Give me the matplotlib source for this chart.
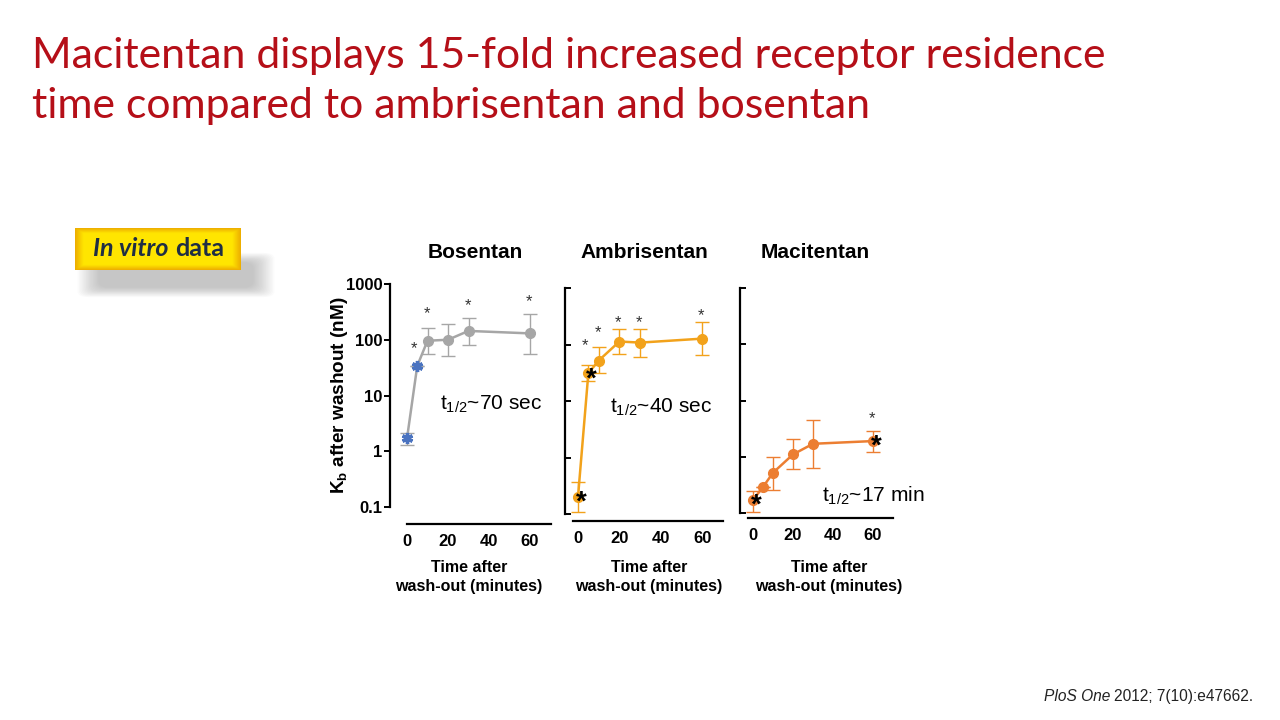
import numpy as np
import matplotlib
matplotlib.use("Agg")
import matplotlib.pyplot as plt
from matplotlib.patches import FancyBboxPatch
import matplotlib.transforms as mtransforms

plt.rcParams['font.family'] = ['Liberation Sans', 'DejaVu Sans']
plt.rcParams['mathtext.fontset'] = 'custom'
plt.rcParams['mathtext.rm'] = 'Liberation Sans'
plt.rcParams['mathtext.it'] = 'Liberation Sans:italic'
plt.rcParams['mathtext.bf'] = 'Liberation Sans:bold'

# ---------------- data ----------------
time_min = [0, 5, 10, 20, 30, 60]

bos_y = [1.7, 34, 96, 100, 144, 130]
bos_lo = [1.28, 34, 56, 52, 81, 56]
bos_hi = [2.1, 34, 160, 190, 245, 295]
bos_star_x = [3.4, 9.8, 29.8, 59.5]
bos_star_y = [78, 330, 460, 540]

amb_y = [0.2, 31, 52, 113, 108, 127]
amb_lo = [0.11, 23, 31, 69, 61, 64]
amb_hi = [0.37, 44, 92, 185, 185, 255]
amb_star_x = [3.4, 9.5, 19.5, 29.5, 59.5]
amb_star_y = [109, 184, 277, 277, 370]
amb_sig_x = [0, 5]

mac_y = [0.17, 0.29, 0.52, 1.1, 1.7, 1.9]
mac_lo = [0.106, 0.29, 0.26, 0.61, 0.64, 1.23]
mac_hi = [0.25, 0.29, 1.0, 2.1, 4.5, 2.9]
mac_star_x = [59.5]
mac_star_y = [5.3]
mac_sig_x = [0, 60]

y_ticks = [0.1, 1, 10, 100, 1000]
y_ticklabels = ['0.1', '1', '10', '100', '1000']
x_ticks = [0, 20, 40, 60]
x_ticklabels = ['0', '20', '40', '60']

panel_titles = ['Bosentan', 'Ambrisentan', 'Macitentan']
half_lives = [r'$\mathregular{t_{1/2}}$~70 sec', r'$\mathregular{t_{1/2}}$~40 sec',
              r'$\mathregular{t_{1/2}}$~17 min']
title_lines = ['Macitentan displays 15-fold increased receptor residence',
               'time compared to ambrisentan and bosentan']

# ---------------- figure ----------------
W, H = 1280, 720
fig = plt.figure(figsize=(12.8, 7.2), dpi=100)
fig.patch.set_facecolor('white')
renderer = fig.canvas.get_renderer()

def px_axes(left, right, top, bottom):
    return fig.add_axes([left / W, 1 - bottom / H, (right - left) / W, (bottom - top) / H])

def text_width_px(t):
    return t.get_window_extent(renderer=renderer).width

PT = 72 / 100.0  # pixels -> points

# Title
for i, line in enumerate(title_lines):
    fig.text(32 / W, 1 - (68 + 50 * i) / H, line, color='#B50F18', fontsize=30.8,
             family='Lato', ha='left', va='baseline')

# "In vitro data" badge with soft shadow
for i in range(16):
    grow = (16 - i) * 1.4
    fig.patches.append(FancyBboxPatch(((100 - grow) / W, 1 - (287 + grow * 0.45) / H),
                                      (152 + 2 * grow) / W, (24 + 0.9 * grow) / H,
                                      boxstyle='round,pad=0,rounding_size=0.008',
                                      transform=fig.transFigure, facecolor='#707070',
                                      edgecolor='none', alpha=0.026, zorder=1))
bax = px_axes(75, 241, 228, 270)
bax.set_axis_off()
gy = np.linspace(0, 1, 80)
gx = np.linspace(0, 1, 220)
c_mid = np.array([1.0, 0.90, 0.0])
c_edge = np.array([0.93, 0.68, 0.0])
fy = np.clip(np.minimum(gy, 1 - gy) / 0.12, 0, 1)
fx = np.clip(np.minimum(gx, 1 - gx) / 0.05, 0, 1)
f = np.minimum(fy[:, None], fx[None, :])
img = c_edge[None, None, :] + (c_mid - c_edge)[None, None, :] * f[:, :, None]
bax.imshow(img, aspect='auto', extent=[0, 1, 0, 1], zorder=2, interpolation='bilinear')
bax.set_xlim(0, 1)
bax.set_ylim(0, 1)
bax.set_zorder(5)
t1 = fig.text(0, 1 - 256 / H, 'In vitro', fontsize=18, family='Lato', weight='bold',
              style='italic', color='#1F2E44', ha='left', va='baseline', zorder=10)
t2 = fig.text(0, 1 - 256 / H, 'data', fontsize=18, family='Lato', weight='bold',
              color='#1F2E44', ha='left', va='baseline', zorder=10)
w1, w2 = text_width_px(t1), text_width_px(t2)
gap = 6
x_start = 158.5 - (w1 + gap + w2) / 2
t1.set_x(x_start / W)
t2.set_x((x_start + w1 + gap) / W)

# Citation
c2 = fig.text(1253 / W, 1 - 701 / H, '2012; 7(10):e47662.', fontsize=11.2,
              ha='right', va='baseline', color='#222222')
wc2 = text_width_px(c2)
fig.text((1253 - wc2 - 3.5) / W, 1 - 701 / H, 'PloS One', fontsize=11.2, style='italic',
         ha='right', va='baseline', color='#222222')

# Y-axis label
fig.text(339 / W, 1 - 395 / H, r'K$_\mathregular{b}$ after washout (nM)', fontsize=13.7,
         weight='bold', rotation=90, ha='center', va='center')

# ---------------- panels ----------------
geo = [
    (407, 2.05, 284, 507, 390, 524, 0.0),
    (578, 2.07, 288, 514, 565, 521, -2.5),
    (753, 2.00, 288, 513, 740, 518, -2.5),
]
series = [
    (bos_y, bos_lo, bos_hi, '#A6A6A6', bos_star_x, bos_star_y),
    (amb_y, amb_lo, amb_hi, '#F2A21B', amb_star_x, amb_star_y),
    (mac_y, mac_lo, mac_hi, '#EC7E32', mac_star_x, mac_star_y),
]
title_px = [(475, 253), (644, 252), (815, 253)]
xlabel_px = [469, 649, 829]
t_half_pos = [(16, 6.9), (15.5, 7.8), (34.5, 0.2)]
sig_list = [[], amb_sig_x, mac_sig_x]

for k in range(3):
    x0, ppm, top, bot, yspine, xspine, xstart = geo[k]
    xmin, xmax = -3, 70
    left = x0 + xmin * ppm
    right = x0 + xmax * ppm
    ax = px_axes(left, right, top, bot)
    ax.set_yscale('log')
    ax.set_xlim(xmin, xmax)
    ax.set_ylim(0.1, 1000)
    ax.patch.set_alpha(0)
    for s in ['top', 'right']:
        ax.spines[s].set_visible(False)
    ax.spines['left'].set_position(('outward', (left - yspine) * PT))
    ax.spines['bottom'].set_position(('outward', (xspine - bot) * PT))
    ax.spines['bottom'].set_bounds(xstart, xmax)
    ax.spines['left'].set_linewidth(1.6)
    ax.spines['bottom'].set_linewidth(1.6)
    ax.yaxis.set_minor_locator(matplotlib.ticker.NullLocator())
    ax.set_yticks(y_ticks)
    if k == 0:
        ax.set_yticklabels(y_ticklabels, fontsize=12, weight='bold')
        ax.tick_params(axis='y', direction='out', length=4, width=1.4, pad=1.5)
    else:
        ax.set_yticklabels([])
        ax.tick_params(axis='y', direction='in', length=4, width=1.4)
    ax.set_xticks(x_ticks)
    ax.set_xticklabels(x_ticklabels, fontsize=12, weight='bold')
    ax.tick_params(axis='x', length=0, pad=7)

    yv, lo, hi, col, sx, sy = series[k]
    yv = np.array(yv); lo = np.array(lo); hi = np.array(hi)
    yerr = np.vstack([yv - lo, hi - yv])
    ax.errorbar(time_min, yv, yerr=yerr, fmt='none', ecolor=col, elinewidth=1.0,
                capsize=5, capthick=1.0, clip_on=False, zorder=2)
    ax.plot(time_min, yv, color=col, lw=1.8, zorder=3, clip_on=False)
    if k == 0:
        ax.plot(time_min[2:], yv[2:], 'o', color=col, ms=7, zorder=4, clip_on=False)
        ax.plot(time_min[:2], yv[:2], ls='none', marker=(6, 2, 0), color='#4A73C0',
                ms=8, mew=2.4, zorder=5, clip_on=False)
    else:
        ax.plot(time_min, yv, 'o', color=col, ms=7, zorder=4, clip_on=False)
        for xs in sig_list[k]:
            yi = yv[time_min.index(xs)]
            ax.text(xs + 1.5, yi, '*', fontsize=20, weight='bold', color='black',
                    ha='center', va='center', zorder=6, clip_on=False,
                    transform=ax.transData + mtransforms.ScaledTranslation(0, -6 / 100, fig.dpi_scale_trans))
    for xs, ys in zip(sx, sy):
        ax.text(xs, ys, '*', fontsize=12, color='#333333', ha='center', va='center',
                transform=ax.transData + mtransforms.ScaledTranslation(0, -3 / 100, fig.dpi_scale_trans))
    tx, ty = t_half_pos[k]
    ax.text(tx, ty, half_lives[k], fontsize=15, ha='left', va='center', color='black')

    fig.text(title_px[k][0] / W, 1 - title_px[k][1] / H, panel_titles[k], fontsize=15,
             weight='bold', ha='center', va='center')
    fig.text(xlabel_px[k] / W, 1 - 567 / H, 'Time after', fontsize=11.5,
             weight='bold', ha='center', va='center')
    fig.text(xlabel_px[k] / W, 1 - 586 / H, 'wash-out (minutes)', fontsize=11.5,
             weight='bold', ha='center', va='center')

fig.savefig('out.png', dpi=100, facecolor='white')
